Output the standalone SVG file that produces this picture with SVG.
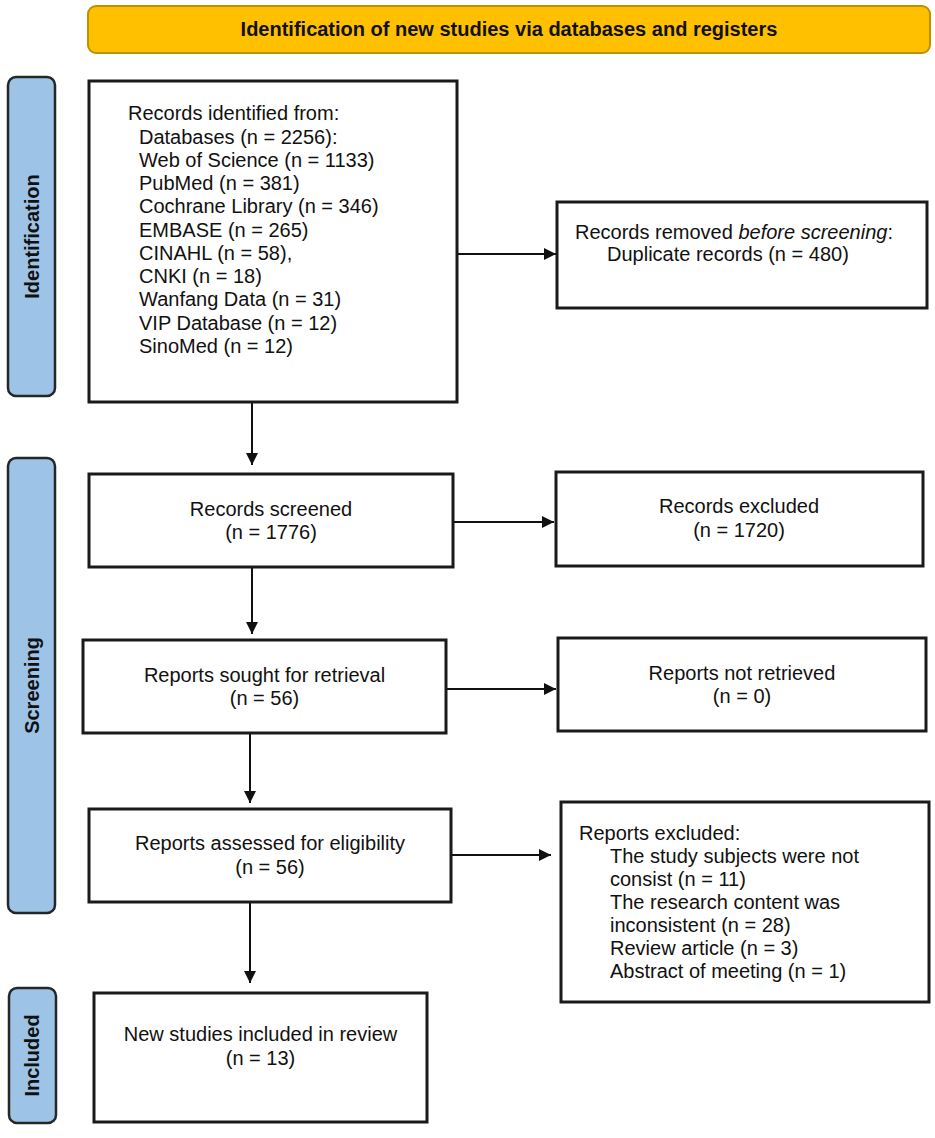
<svg xmlns="http://www.w3.org/2000/svg" width="935" height="1138" viewBox="0 0 935 1138">
<style>
.bg{fill:#ffffff}
.box{fill:#ffffff;stroke:#1a1a1a;stroke-width:3}
.side{fill:#9DC3E6;stroke:#262626;stroke-width:2.5}
.head{fill:#FFC000;stroke:#BF9000;stroke-width:2}
.t{font-family:"Liberation Sans",Arial,sans-serif;font-size:20px;fill:#111111}
.c{text-anchor:middle}
.b{font-weight:bold}
.sl{font-family:"Liberation Sans",Arial,sans-serif;font-size:20px;font-weight:bold;fill:#111111;text-anchor:middle}
.ln{fill:none;stroke:#111111;stroke-width:2}
</style>
<defs>
<marker id="ah" viewBox="0 0 12 12" refX="12" refY="6" markerWidth="12" markerHeight="12" markerUnits="userSpaceOnUse" orient="auto">
<path d="M0,0 L12,6 L0,12 Z" fill="#111111"/>
</marker>
</defs>
<rect class="bg" x="0" y="0" width="935" height="1138"/>

<g id="header">
<rect class="head" x="88" y="6" width="842" height="47" rx="8"/>
<text class="t b c" x="509" y="36">Identification of new studies via databases and registers</text>
</g>

<g id="label-identification">
<rect class="side" x="8" y="77" width="47" height="319" rx="8"/>
<text class="sl" transform="translate(39,236.5) rotate(-90)">Identification</text>
</g>
<g id="label-screening">
<rect class="side" x="8" y="458" width="47" height="455" rx="8"/>
<text class="sl" transform="translate(39,685.5) rotate(-90)">Screening</text>
</g>
<g id="label-included">
<rect class="side" x="9" y="988" width="47" height="135" rx="8"/>
<text class="sl" transform="translate(39,1055.5) rotate(-90)">Included</text>
</g>

<g id="connectors">
<line class="ln" x1="252" y1="402" x2="252" y2="465" marker-end="url(#ah)"/>
<line class="ln" x1="456" y1="254" x2="556" y2="254" marker-end="url(#ah)"/>
<line class="ln" x1="252" y1="567" x2="252" y2="634" marker-end="url(#ah)"/>
<line class="ln" x1="453" y1="522" x2="554" y2="522" marker-end="url(#ah)"/>
<line class="ln" x1="446" y1="689" x2="556" y2="689" marker-end="url(#ah)"/>
<line class="ln" x1="250" y1="733" x2="250" y2="803" marker-end="url(#ah)"/>
<line class="ln" x1="451" y1="855" x2="551" y2="855" marker-end="url(#ah)"/>
<line class="ln" x1="250" y1="902" x2="250" y2="983" marker-end="url(#ah)"/>
</g>

<g id="records-identified">
<rect class="box" x="89" y="81" width="368" height="321"/>
<text class="t" x="128" y="120">Records identified from:</text>
<text class="t" x="139" y="143.5">Databases (n = 2256):</text>
<text class="t" x="139" y="166.5">Web of Science (n = 1133)</text>
<text class="t" x="139" y="190">PubMed (n = 381)</text>
<text class="t" x="139" y="213">Cochrane Library (n = 346)</text>
<text class="t" x="139" y="236.5">EMBASE (n = 265)</text>
<text class="t" x="139" y="260">CINAHL (n = 58),</text>
<text class="t" x="139" y="283">CNKI (n = 18)</text>
<text class="t" x="139" y="306">Wanfang Data (n = 31)</text>
<text class="t" x="139" y="329.5">VIP Database (n = 12)</text>
<text class="t" x="139" y="353">SinoMed (n = 12)</text>
</g>

<g id="records-removed">
<rect class="box" x="557" y="202" width="370" height="106"/>
<text class="t" x="575" y="239">Records removed <tspan font-style="italic">before screening</tspan>:</text>
<text class="t" x="607" y="261">Duplicate records (n = 480)</text>
</g>

<g id="records-screened">
<rect class="box" x="89" y="474" width="364" height="93"/>
<text class="t c" x="271" y="516">Records screened</text>
<text class="t c" x="271" y="539">(n = 1776)</text>
</g>

<g id="records-excluded">
<rect class="box" x="556" y="472" width="367" height="94"/>
<text class="t c" x="739" y="513">Records excluded</text>
<text class="t c" x="739" y="537">(n = 1720)</text>
</g>

<g id="reports-sought">
<rect class="box" x="83" y="640" width="363" height="93"/>
<text class="t c" x="264.5" y="682">Reports sought for retrieval</text>
<text class="t c" x="264.5" y="705">(n = 56)</text>
</g>

<g id="reports-not-retrieved">
<rect class="box" x="558" y="638" width="368" height="93"/>
<text class="t c" x="742" y="680">Reports not retrieved</text>
<text class="t c" x="742" y="703">(n = 0)</text>
</g>

<g id="reports-assessed">
<rect class="box" x="89" y="809" width="362" height="93"/>
<text class="t c" x="270" y="850">Reports assessed for eligibility</text>
<text class="t c" x="270" y="874">(n = 56)</text>
</g>

<g id="reports-excluded">
<rect class="box" x="561" y="802" width="368" height="200"/>
<text class="t" x="579" y="840">Reports excluded:</text>
<text class="t" x="610" y="863">The study subjects were not</text>
<text class="t" x="610" y="886">consist (n = 11)</text>
<text class="t" x="610" y="909">The research content was</text>
<text class="t" x="610" y="932">inconsistent (n = 28)</text>
<text class="t" x="610" y="955">Review article (n = 3)</text>
<text class="t" x="610" y="978">Abstract of meeting (n = 1)</text>
</g>

<g id="included">
<rect class="box" x="94" y="993" width="333" height="129"/>
<text class="t c" x="260.5" y="1041">New studies included in review</text>
<text class="t c" x="260.5" y="1065">(n = 13)</text>
</g>
</svg>
